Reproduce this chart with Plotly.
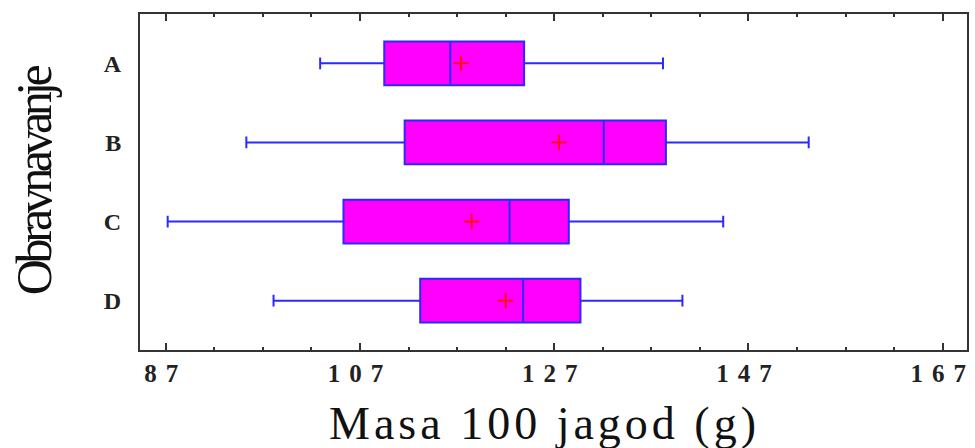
import plotly.graph_objects as go

# Treatment groups and five-number summaries (mass of 100 strawberries, g)
treatments = ["A", "B", "C", "D"]
minimum = [102.9, 95.3, 87.2, 98.1]
q1 = [109.5, 111.6, 105.3, 113.2]
median = [116.3, 132.1, 122.4, 123.8]
q3 = [123.9, 138.5, 128.5, 129.7]
maximum = [138.2, 153.2, 144.4, 140.2]
mean = [117.4, 127.5, 118.5, 122.0]

x_ticks = [87, 107, 127, 147, 167]

x_title = "Masa 100 jagod (g)"
y_title = "Obravnavanje"

serif = "Liberation Serif, Times New Roman, serif"


def spaced(text, px):
    """Wrap text in a span with the given letter spacing."""
    return '<span style="letter-spacing:%gpx">%s</span>' % (px, text)


fig = go.Figure()

fig.add_trace(go.Box(
    y=treatments,
    q1=q1,
    median=median,
    q3=q3,
    lowerfence=minimum,
    upperfence=maximum,
    orientation="h",
    fillcolor="#ff00ff",
    line=dict(color="#2a2aff", width=2),
    whiskerwidth=0.27,
    boxpoints=False,
    showlegend=False,
    hoverinfo="skip",
))

fig.add_trace(go.Scatter(
    x=mean,
    y=treatments,
    mode="markers",
    marker=dict(symbol="cross-thin", size=11, line=dict(color="#ff1010", width=2)),
    showlegend=False,
    hoverinfo="skip",
))

tick_text = [spaced(str(v), 9) for v in x_ticks]

fig.update_layout(
    width=975,
    height=448,
    margin=dict(l=140, r=8, t=14, b=98, autoexpand=False),
    paper_bgcolor="white",
    plot_bgcolor="white",
    boxmode="overlay",
    boxgap=0.21,
    font=dict(family=serif, color="#111111"),
    xaxis=dict(
        range=[84.35, 169.5],
        automargin=False,
        tickmode="array",
        tickvals=x_ticks,
        ticktext=tick_text,
        ticks="inside",
        ticklen=7,
        tickwidth=2,
        tickcolor="#333333",
        minor=dict(dtick=5, tick0=87, ticks="inside", ticklen=3, tickwidth=2, tickcolor="#333333"),
        showgrid=False,
        zeroline=False,
        showline=True,
        linecolor="#333333",
        linewidth=2,
        mirror="ticks",
        tickfont=dict(family=serif, size=25, color="#222222", weight="bold"),
    ),
    yaxis=dict(
        type="category",
        automargin=False,
        categoryorder="array",
        categoryarray=treatments,
        range=[3.623, -0.623],
        ticks="",
        showgrid=False,
        zeroline=False,
        showline=True,
        linecolor="#333333",
        linewidth=2,
        mirror=True,
        ticklabelstandoff=12,
        tickfont=dict(family=serif, size=24, color="#222222", weight="bold"),
        title=dict(text=spaced(y_title, -4.5), font=dict(family=serif, size=50, color="#111111"), standoff=36),
    ),
)

# x-axis title placed as an annotation just above the bottom edge
fig.add_annotation(
    text=spaced(x_title, 4),
    xref="paper", yref="paper",
    x=0.489, y=0,
    xanchor="center", yanchor="top",
    yshift=-46,
    showarrow=False,
    font=dict(family=serif, size=46, color="#111111"),
)

fig.write_html("out.html")
